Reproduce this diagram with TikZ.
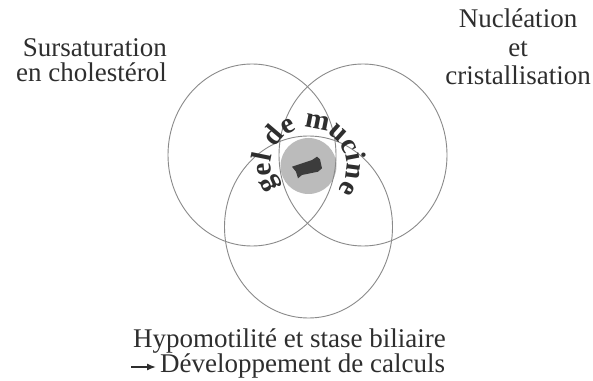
\documentclass[tikz,border=0pt]{standalone}
\usepackage{fontspec}
\setmainfont{Liberation Serif}
\usetikzlibrary{arrows.meta}
\definecolor{txt}{HTML}{2E2E2E}
\definecolor{ring}{HTML}{8A8A8A}
\definecolor{gelgray}{HTML}{BBBBBB}
\definecolor{stone}{HTML}{3C3C3C}
\begin{document}
\begin{tikzpicture}[x=1pt,y=1pt,
  ringline/.style={draw=ring, line width=0.9pt},
  lbl/.style={inner sep=0pt, text=txt},
  lblA/.style={lbl, font=\fontsize{27}{25}\selectfont},
  lblB/.style={lbl, font=\fontsize{27}{28.5}\selectfont},
  arcch/.style={inner sep=0pt, anchor=base, text=txt, font=\fontsize{29}{29}\selectfont\bfseries},
]
\fill[white] (0,0) rectangle (593,380);
\useasboundingbox (0,0) rectangle (593,380);
% gel disc and stone
\node[circle, fill=gelgray, minimum size=56pt, inner sep=0pt] (disc) at (308.5,214) {};
\fill[stone] (292,213.3) -- (312,220) -- (317,223.3) -- (320,220.7) -- (322,211.7)
  -- (318,208.3) -- (302,205) -- (298,201.7) -- (296,208.3) -- cycle;
% three circles
\draw[ringline] (252,225) ellipse [x radius=84pt, y radius=91pt];
\draw[ringline] (363,225) ellipse [x radius=84pt, y radius=91pt];
\draw[ringline] (308.5,153) ellipse [x radius=84pt, y radius=91pt];
% curved text "gel de mucine"
\foreach \a/\ch [count=\i] in {205.07/g, 184.43/e, 168.64/l, 139.48/d, 117.62/e,
    78.76/m, 48.39/u, 26.53/c, 10.74/i, -7.49/n, -29.35/e}
  \node[arcch, rotate=\a-90] (gel\i) at ([shift={(\a:38pt)}]disc.center) {\ch};
% labels
\node[lblA, anchor=base east, align=right] (sur) at (167,298) {Sursaturation\\en cholestérol};
\node[lblB, anchor=base, align=center] (nuc) at (518,295) {Nucléation\\et\\cristallisation};
\node[lblA, anchor=base west] (hypo) at (133,33) {Hypomotilité et stase biliaire};
\node[lblA, anchor=base west] (dev) at (160,8) {Développement de calculs};
\coordinate (arr) at (131,13);
\draw[txt, line width=1.4pt, -{Latex[length=9pt,width=7pt]}, shorten >=4pt] (arr) -- (arr -| dev.west);
\end{tikzpicture}
\end{document}
